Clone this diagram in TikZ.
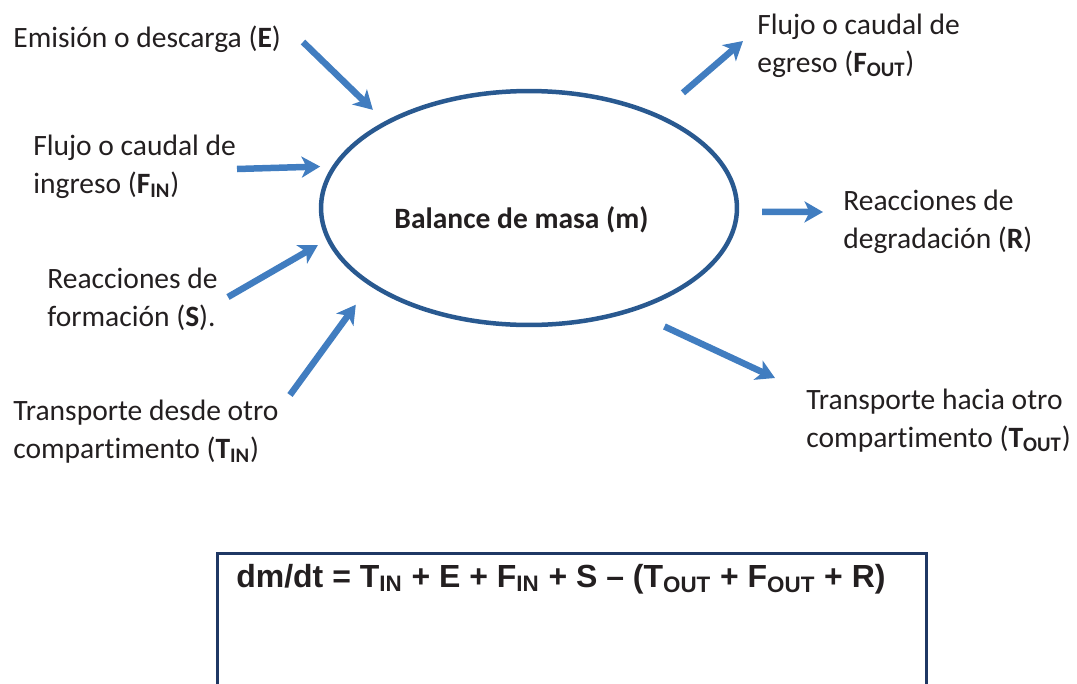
\documentclass[tikz,border=0pt]{standalone}
\usepackage{fontspec}
\setmainfont{Carlito}[Ligatures={NoCommon}]
\newfontfamily\eqfont{Liberation Sans}
\usetikzlibrary{arrows.meta, shapes.geometric, positioning}

\definecolor{arrowblue}{RGB}{65,125,192}
\definecolor{ringblue}{RGB}{41,89,144}
\definecolor{boxnavy}{RGB}{31,56,100}
\definecolor{ink}{RGB}{35,31,32}

\newcommand{\sub}[1]{\textsubscript{\textbf{#1}}}

\tikzset{
  flow/.style={arrowblue, line width=0.13cm, -{Stealth[length=0.37cm, width=0.42cm, inset=0.1cm]}},
  lbl/.style={anchor=base west, inner sep=0, align=left, text=ink, font=\fontsize{16.8}{21.6}\selectfont},
}

\begin{document}
\begin{tikzpicture}[x=0.02cm, y=-0.02cm]
\useasboundingbox (0,0) rectangle (1077,683);

\node[ellipse, draw=ringblue, line width=0.09cm, minimum width=8.32cm, minimum height=4.68cm,
  label={[text=ink, font=\fontsize{16.8}{20}\selectfont\bfseries, xshift=-0.15cm, yshift=-0.24cm]center:Balance de masa (m)}] (bal) at (529,208) {};

\node[lbl] (emi) at (13,47) {Emisión o descarga (\textbf{E})};
\node[lbl] (fin) at (33,193) {Flujo o caudal de\\ ingreso (\textbf{F}\sub{IN})};
\node[lbl] (sfo) at (47,326) {Reacciones de\\ formación (\textbf{S}).};
\node[lbl] (tin) at (13,458) {Transporte desde otro\\ compartimento (\textbf{T}\sub{IN})};
\node[lbl] (fout) at (757,72) {Flujo o caudal de\\ egreso (\textbf{F}\sub{OUT})};
\node[lbl] (rde) at (843,248) {Reacciones de\\ degradación (\textbf{R})};
\node[lbl] (tout) at (806,447) {Transporte hacia otro\\ compartimento (\textbf{T}\sub{OUT})};

\coordinate (e0) at (303,42);
\coordinate (f0) at (237,169);
\coordinate (s0) at (228,297);
\coordinate (t0) at (290,395);
\coordinate (fo1) at (743,41);
\coordinate (r1) at (823,212);
\coordinate (to1) at (775,378);

\draw[flow, shorten >=0.33cm] (e0) -- (bal.149.3);
\draw[flow, shorten >=0.24cm] (f0) -- (bal.168.4);
\draw[flow, shorten >=0.2cm] (s0) -- (bal.189.5);
\draw[flow, shorten >=0.47cm] (t0) -- (bal.206.6);
\draw[flow, shorten <=0.65cm] (bal.36.9) -- (fo1);
\draw[flow, shorten <=0.46cm] (bal.359.2) -- (r1);
\draw[flow, shorten <=0.7cm] (bal.315.1) -- (to1);

\node[anchor=base west, inner sep=0, text=ink, font=\eqfont\fontsize{18.2}{20}\selectfont\bfseries] (eq) at (236,587)
  {dm/dt = T\textsubscript{IN} + E + F\textsubscript{IN} + S – (T\textsubscript{OUT} + F\textsubscript{OUT} + R)};
\draw[boxnavy, line width=0.06cm] (217,700) |- (926,553) -- (926,700);
\end{tikzpicture}
\end{document}
